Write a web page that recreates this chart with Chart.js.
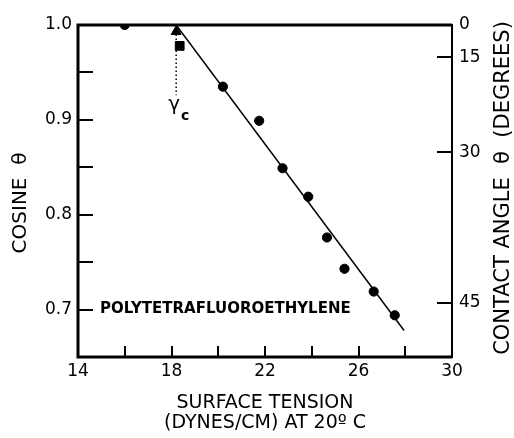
<!DOCTYPE html>
<html>
<head>
<meta charset="utf-8">
<script src="https://cdn.jsdelivr.net/npm/chart.js@4"></script>
<style>
  html, body { margin: 0; padding: 0; background: #fff; }
  canvas { display: block; }
</style>
</head>
<body>
<canvas id="chart-wetting" width="514" height="438"></canvas>
<script>
// surface tension (dynes/cm) vs cosine of contact angle
const tension = [16, 20.2, 21.75, 22.75, 23.85, 24.65, 25.4, 26.65, 27.55];
const cosine = [1.0, 0.935, 0.899, 0.849, 0.819, 0.776, 0.743, 0.719, 0.694];
const squareX = [18.35];
const squareY = [0.978];
const criticalX = [18.2];
const criticalY = [0.993];
const fitLineX = [18.2, 27.95];
const fitLineY = [1.0, 0.678];
const gammaDropX = [18.2, 18.2];
const gammaDropY = [0.99, 0.926];
const angleTicks = [0, 15, 30, 45];
const xTickLabels = [14, 18, 22, 26, 30];

const FONT = "'DejaVu Sans', sans-serif";
const pts = (xs, ys) => xs.map((v, i) => ({ x: v, y: ys[i] }));

const framePlugin = {
  id: 'frame',
  afterDraw(chart) {
    const { ctx, chartArea: { left, right, top, bottom }, scales: { x, y, y2 } } = chart;
    ctx.save();
    ctx.strokeStyle = '#000';
    ctx.lineWidth = 3;
    ctx.beginPath();
    ctx.moveTo(right, top);
    ctx.lineTo(left, top);
    ctx.lineTo(left, bottom);
    ctx.lineTo(right, bottom);
    ctx.stroke();
    ctx.lineWidth = 2;
    ctx.beginPath();
    ctx.moveTo(right, top - 1);
    ctx.lineTo(right, bottom + 1);
    ctx.stroke();

    // inward ticks
    ctx.lineWidth = 2;
    ctx.beginPath();
    y.ticks.forEach(t => {
      if (t.value <= y.min + 1e-6 || t.value >= y.max - 1e-6) return;
      const py = Math.round(y.getPixelForValue(t.value));
      ctx.moveTo(left, py);
      ctx.lineTo(left + 15, py);
    });
    y2.ticks.forEach(t => {
      if (t.value >= y2.max - 1e-6) return;
      const py = Math.round(y2.getPixelForValue(t.value));
      ctx.moveTo(right, py);
      ctx.lineTo(right - 15, py);
    });
    x.ticks.forEach(t => {
      if (t.value <= x.min || t.value >= x.max) return;
      const px = Math.round(x.getPixelForValue(t.value));
      ctx.moveTo(px, bottom);
      ctx.lineTo(px, bottom - 11);
    });
    ctx.stroke();

    ctx.fillStyle = '#000';
    // gamma c label
    const gx = x.getPixelForValue(gammaDropX[1]);
    const gy = y.getPixelForValue(gammaDropY[1]);
    ctx.textAlign = 'center';
    ctx.textBaseline = 'middle';
    ctx.font = '20px ' + FONT;
    ctx.fillText('γ', gx - 2, gy + 10);
    ctx.font = 'bold 14px ' + FONT;
    ctx.fillText('c', gx + 9, gy + 21);

    // material name
    ctx.textAlign = 'left';
    ctx.font = 'bold 15px ' + FONT;
    ctx.fillText('POLYTETRAFLUOROETHYLENE', left + 22, y.getPixelForValue(0.7));

    // vertical titles
    ctx.textAlign = 'center';
    ctx.font = '20px ' + FONT;
    ctx.save();
    ctx.translate(21, 203);
    ctx.rotate(-Math.PI / 2);
    ctx.fillText('COSINE  θ', 0, 0);
    ctx.restore();
    ctx.font = '21px ' + FONT;
    ctx.save();
    ctx.translate(504, 188);
    ctx.rotate(-Math.PI / 2);
    ctx.fillText('CONTACT ANGLE  θ  (DEGREES)', 0, 0);
    ctx.restore();
    ctx.restore();
  }
};

new Chart(document.getElementById('chart-wetting'), {
  type: 'scatter',
  data: {
    datasets: [
      {
        data: pts(fitLineX, fitLineY),
        showLine: true,
        borderColor: '#000',
        borderWidth: 1.5,
        pointRadius: 0
      },
      {
        data: pts(gammaDropX, gammaDropY),
        showLine: true,
        borderColor: '#000',
        borderWidth: 1.5,
        borderDash: [1.5, 2.5],
        pointRadius: 0
      },
      {
        data: pts(tension, cosine),
        backgroundColor: '#000',
        borderColor: '#000',
        pointRadius: 4.6,
        pointStyle: 'circle'
      },
      {
        data: pts(criticalX, criticalY),
        backgroundColor: '#000',
        borderColor: '#000',
        pointRadius: 5.8,
        pointStyle: 'triangle'
      },
      {
        data: pts(squareX, squareY),
        backgroundColor: '#000',
        borderColor: '#000',
        pointRadius: 6.2,
        pointStyle: 'rect'
      }
    ]
  },
  options: {
    responsive: false,
    animation: false,
    events: [],
    layout: { padding: { top: 25, left: 0, right: 0, bottom: 0 } },
    plugins: {
      legend: { display: false },
      tooltip: { enabled: false }
    },
    scales: {
      x: {
        type: 'linear',
        min: 14,
        max: 30,
        grid: { display: false, drawTicks: false },
        border: { display: false },
        ticks: {
          stepSize: 2,
          color: '#000',
          padding: 4,
          maxRotation: 0,
          autoSkip: false,
          font: { family: FONT, size: 17 },
          callback: v => xTickLabels.includes(v) ? String(v) : ''
        },
        title: {
          display: true,
          text: ['SURFACE TENSION', '(DYNES/CM) AT 20º C'],
          color: '#000',
          font: { family: FONT, size: 19, lineHeight: 1.05 },
          padding: { top: 0, bottom: 5 }
        },
        afterFit: s => { s.height = 81; }
      },
      y: {
        type: 'linear',
        position: 'left',
        min: 0.65,
        max: 1.0,
        grid: { display: false, drawTicks: false },
        border: { display: false },
        ticks: {
          stepSize: 0.05,
          color: '#000',
          padding: 6,
          font: { family: FONT, size: 17 },
          callback: v => {
            const r = Math.round(v * 100);
            return r % 10 === 0 ? (r / 100).toFixed(1) : '';
          }
        },
        afterFit: s => { s.width = 78; }
      },
      y2: {
        type: 'linear',
        position: 'right',
        min: 0.65,
        max: 1.0,
        grid: { display: false, drawTicks: false },
        border: { display: false },
        afterBuildTicks: s => {
          s.ticks = angleTicks.map(a => ({ value: Math.cos(a * Math.PI / 180) }));
        },
        ticks: {
          color: '#000',
          padding: 7,
          font: { family: FONT, size: 17 },
          callback: (v, i) => String(angleTicks[i])
        },
        afterFit: s => { s.width = 62; }
      }
    }
  },
  plugins: [framePlugin]
});
</script>
</body>
</html>
